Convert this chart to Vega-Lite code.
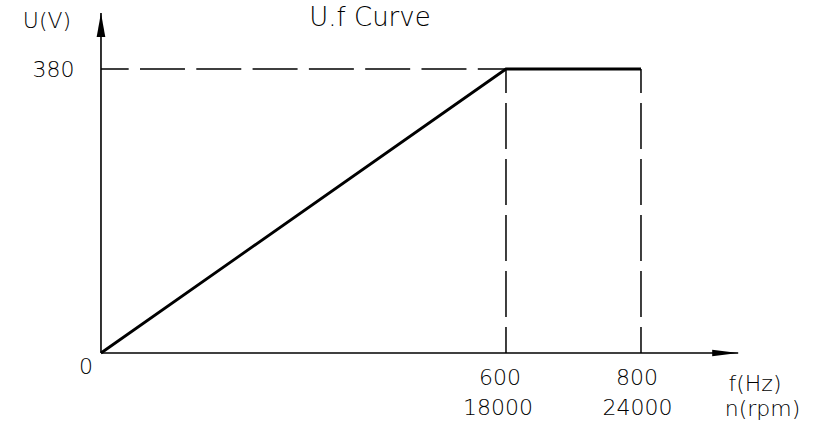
{
  "$schema": "https://vega.github.io/schema/vega-lite/v6.json",
  "width": 825,
  "height": 430,
  "autosize": {"type": "none"},
  "padding": 0,
  "background": "white",
  "config": {"view": {"stroke": null}},
  "encoding": {
    "x": {"field": "x", "type": "quantitative", "axis": null, "scale": {"domain": [-149.6, 1072.6], "nice": false, "zero": false}},
    "y": {"field": "y", "type": "quantitative", "axis": null, "scale": {"domain": [-103.03, 472.32], "nice": false, "zero": false}}
  },
  "layer": [
    {
      "data": {"values": [
        {"x": 0, "y": 0, "x2": 944, "y2": 0},
        {"x": 0, "y": 0, "x2": 0, "y2": 455}
      ]},
      "mark": {"type": "rule", "color": "black", "strokeWidth": 1.6},
      "encoding": {"x2": {"field": "x2"}, "y2": {"field": "y2"}}
    },
    {
      "data": {"values": [
        {"x": 0, "y": 380, "x2": 600, "y2": 380}
      ]},
      "mark": {"type": "rule", "color": "black", "strokeWidth": 1.5, "strokeDash": [45, 11.3], "strokeDashOffset": 17.3},
      "encoding": {"x2": {"field": "x2"}, "y2": {"field": "y2"}}
    },
    {
      "data": {"values": [
        {"x": 600, "y": 380, "x2": 600, "y2": 0},
        {"x": 800, "y": 380, "x2": 800, "y2": 0}
      ]},
      "mark": {"type": "rule", "color": "black", "strokeWidth": 1.5, "strokeDash": [46, 10], "strokeDashOffset": 22},
      "encoding": {"x2": {"field": "x2"}, "y2": {"field": "y2"}}
    },
    {
      "data": {"values": [
        {"x": 0, "y": 0},
        {"x": 600, "y": 380},
        {"x": 800, "y": 380}
      ]},
      "mark": {"type": "line", "color": "black", "strokeWidth": 2.8, "strokeJoin": "miter"}
    },
    {
      "data": {"values": [{"x": 944, "y": 0}]},
      "mark": {"type": "point", "shape": "M0,0L-2,-0.25L-2,0.25Z", "size": 676, "filled": true, "color": "black", "opacity": 1, "strokeWidth": 0}
    },
    {
      "data": {"values": [{"x": 0, "y": 455}]},
      "mark": {"type": "point", "shape": "M0,0L-0.36,2L0.36,2Z", "size": 576, "filled": true, "color": "black", "opacity": 1, "strokeWidth": 0}
    },
    {
      "data": {"values": [
        {"x": 398.5, "y": 437.5, "label": "U.f Curve"}
      ]},
      "mark": {"type": "text", "font": "DejaVu Sans", "fontWeight": 200, "fontSize": 26, "align": "center", "baseline": "alphabetic", "color": "black"},
      "encoding": {"text": {"field": "label"}}
    },
    {
      "data": {"values": [
        {"x": -80, "y": 434.9, "label": "U(V)"},
        {"x": -70.4, "y": 369.3, "label": "380"},
        {"x": -22.2, "y": -28.1, "label": "0"},
        {"x": 591, "y": -42.8, "label": "600"},
        {"x": 588, "y": -83.0, "label": "18000"},
        {"x": 794, "y": -42.8, "label": "800"},
        {"x": 795, "y": -83.0, "label": "24000"},
        {"x": 968.9, "y": -51.5, "label": "f(Hz)"},
        {"x": 980, "y": -84.0, "label": "n(rpm)"}
      ]},
      "mark": {"type": "text", "font": "DejaVu Sans", "fontWeight": 200, "fontSize": 22, "align": "center", "baseline": "alphabetic", "color": "black"},
      "encoding": {"text": {"field": "label"}}
    }
  ]
}
